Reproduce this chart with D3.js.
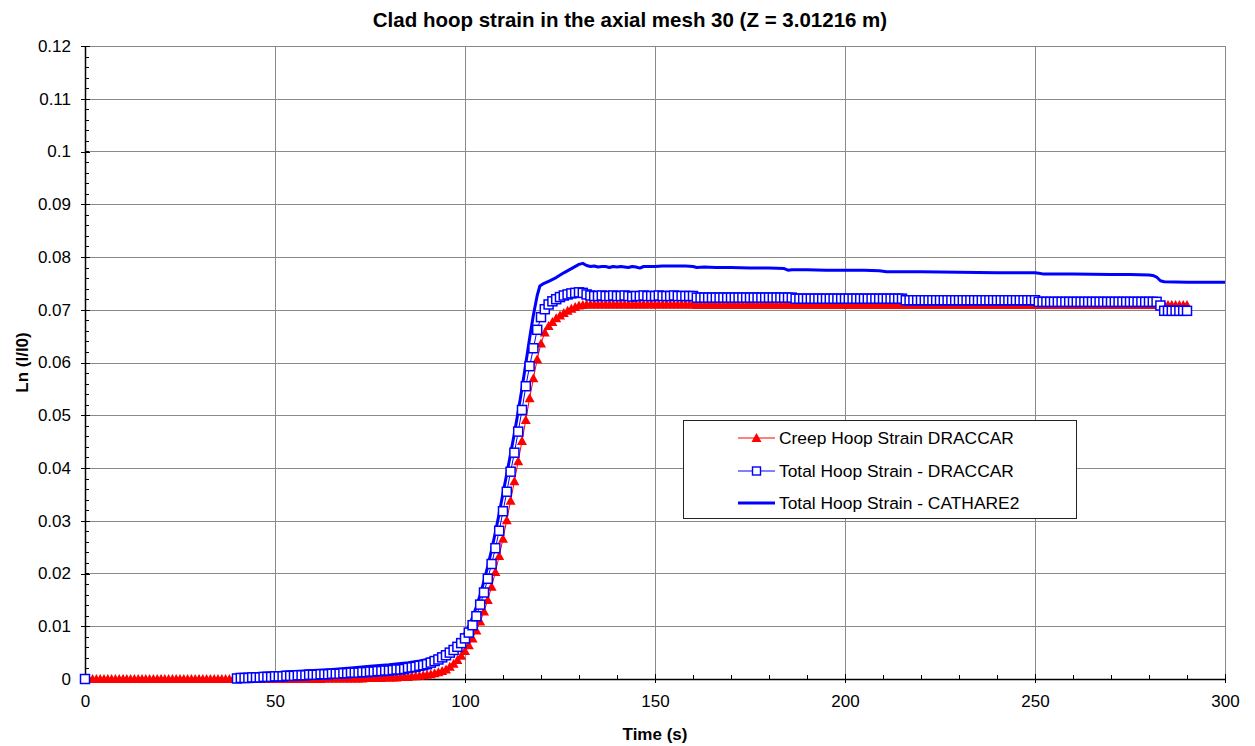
<!DOCTYPE html>
<html>
<head>
<meta charset="utf-8">
<script src="https://cdn.jsdelivr.net/npm/d3@7"></script>
<style>
  html, body { margin: 0; padding: 0; background: #fff; }
  svg { display: block; font-family: "Liberation Sans", Arial, sans-serif; }
</style>
</head>
<body>
<svg id="chart" width="1255" height="746"></svg>
<script>
// ---- Data -----------------------------------------------------------------
// DRACCAR output is sampled every second.
const creepStart = 0;          // s
const creepStep = 1;           // s
// Creep hoop strain, DRACCAR (t = 0 .. 290 s)
const creepStrain = [
  0,0,0,0,0,0,0,0,0,0,
  0,0,0,0,0,0,0,0,0,0,
  0,0,0,0,0,0,0,0,0,0,
  0,0,0,0,0,0,0,0,0,0,
  0,0,0,0,0,0,0,0,0,0,
  0,0,0,0,0,0,0,0,0,0,
  0,0,0,0.0001,0.0001,0.0001,0.0001,0.0001,0.0001,0.0001,
  0.0001,0.0001,0.0001,0.0001,0.0002,0.0002,0.0002,0.0002,0.0002,0.0003,
  0.0003,0.0003,0.0003,0.0004,0.0004,0.0004,0.0005,0.0005,0.0006,0.0007,
  0.0008,0.0009,0.0011,0.0013,0.0015,0.0018,0.0023,0.0029,0.0036,0.0044,
  0.0053,0.0064,0.0077,0.0092,0.0109,0.0128,0.0150,0.0175,0.0203,0.0233,
  0.0266,0.0301,0.0338,0.0375,0.0413,0.0451,0.0491,0.0532,0.0570,0.0606,
  0.0636,0.0657,0.0669,0.0677,0.0684,0.0689,0.0694,0.0698,0.0702,0.0705,
  0.0708,0.0709,0.0710,0.0710,0.0710,0.0710,0.0710,0.0710,0.0710,0.0710,
  0.0710,0.0710,0.0710,0.0710,0.0710,0.0710,0.0710,0.0710,0.0710,0.0710,
  0.0710,0.0710,0.0710,0.0710,0.0710,0.0710,0.0710,0.0710,0.0710,0.0710,
  0.0710,0.0709,0.0709,0.0709,0.0709,0.0709,0.0709,0.0709,0.0709,0.0709,
  0.0709,0.0709,0.0709,0.0709,0.0709,0.0709,0.0709,0.0709,0.0709,0.0709,
  0.0709,0.0709,0.0709,0.0709,0.0709,0.0709,0.0709,0.0709,0.0709,0.0709,
  0.0709,0.0709,0.0709,0.0709,0.0709,0.0709,0.0709,0.0709,0.0709,0.0709,
  0.0709,0.0709,0.0709,0.0709,0.0709,0.0709,0.0709,0.0709,0.0709,0.0709,
  0.0709,0.0709,0.0709,0.0709,0.0709,0.0709,0.0709,0.0709,0.0709,0.0709,
  0.0709,0.0709,0.0709,0.0709,0.0709,0.0709,0.0709,0.0709,0.0709,0.0709,
  0.0709,0.0709,0.0709,0.0709,0.0709,0.0709,0.0709,0.0709,0.0709,0.0709,
  0.0709,0.0709,0.0709,0.0709,0.0709,0.0709,0.0709,0.0709,0.0709,0.0709,
  0.0709,0.0709,0.0709,0.0709,0.0709,0.0709,0.0709,0.0709,0.0709,0.0709,
  0.0709,0.0709,0.0709,0.0709,0.0709,0.0709,0.0709,0.0709,0.0709,0.0709,
  0.0709,0.0709,0.0709,0.0709,0.0709,0.0709,0.0709,0.0709,0.0709,0.0709,
  0.0709,0.0709,0.0709,0.0709,0.0709,0.0709,0.0709,0.0709,0.0709,0.0709,
  0.0709
];

// Total hoop strain, DRACCAR: one value at t = 0 s, then t = 40 .. 290 s
const totalFirstTime = 0;
const totalFirstValue = 0;
const totalStart = 40;         // s
const totalStep = 1;           // s
const totalStrain = [
  0.0001,0.0002,0.0002,0.0002,0.0003,0.0003,0.0003,0.0004,0.0004,0.0004,
  0.0005,0.0005,0.0005,0.0006,0.0006,0.0006,0.0007,0.0007,0.0007,0.0008,
  0.0008,0.0008,0.0009,0.0009,0.0009,0.0010,0.0010,0.0010,0.0011,0.0011,
  0.0012,0.0012,0.0012,0.0013,0.0013,0.0014,0.0014,0.0015,0.0015,0.0016,
  0.0016,0.0017,0.0018,0.0018,0.0019,0.0021,0.0022,0.0023,0.0025,0.0026,
  0.0028,0.0031,0.0034,0.0037,0.0041,0.0045,0.0050,0.0055,0.0061,0.0068,
  0.0077,0.0088,0.0102,0.0119,0.0141,0.0164,0.0190,0.0218,0.0248,0.0281,
  0.0318,0.0355,0.0393,0.0429,0.0469,0.0510,0.0555,0.0593,0.0627,0.0662,
  0.0686,0.0701,0.0710,0.0716,0.0720,0.0724,0.0727,0.0729,0.0731,0.0732,
  0.0733,0.0732,0.0729,0.0727,0.0726,0.0726,0.0727,0.0726,0.0726,0.0727,
  0.0726,0.0726,0.0727,0.0726,0.0725,0.0726,0.0726,0.0727,0.0726,0.0726,
  0.0726,0.0727,0.0726,0.0726,0.0726,0.0727,0.0726,0.0726,0.0726,0.0726,
  0.0726,0.0723,0.0723,0.0723,0.0723,0.0723,0.0723,0.0723,0.0723,0.0723,
  0.0723,0.0723,0.0723,0.0723,0.0723,0.0723,0.0723,0.0723,0.0723,0.0723,
  0.0723,0.0723,0.0723,0.0723,0.0723,0.0723,0.0723,0.0721,0.0721,0.0721,
  0.0721,0.0721,0.0721,0.0721,0.0721,0.0721,0.0721,0.0721,0.0721,0.0721,
  0.0721,0.0721,0.0721,0.0721,0.0721,0.0721,0.0721,0.0721,0.0721,0.0721,
  0.0721,0.0721,0.0721,0.0721,0.0721,0.0721,0.0718,0.0718,0.0718,0.0718,
  0.0718,0.0718,0.0718,0.0718,0.0718,0.0718,0.0718,0.0718,0.0718,0.0718,
  0.0718,0.0718,0.0718,0.0718,0.0718,0.0718,0.0718,0.0718,0.0718,0.0718,
  0.0718,0.0718,0.0718,0.0718,0.0718,0.0718,0.0718,0.0718,0.0718,0.0718,
  0.0718,0.0715,0.0715,0.0715,0.0715,0.0715,0.0715,0.0715,0.0715,0.0715,
  0.0715,0.0715,0.0715,0.0715,0.0715,0.0715,0.0715,0.0715,0.0715,0.0715,
  0.0715,0.0715,0.0715,0.0715,0.0715,0.0715,0.0715,0.0715,0.0715,0.0715,
  0.0715,0.0715,0.0715,0.0708,0.0698,0.0698,0.0698,0.0698,0.0698,0.0698,
  0.0698
];

// Total hoop strain, CATHARE2 (irregular time steps)
const cathareTime = [
  40,45,50,55,60,65,70,75,80,85,88,90,92,94,95,96,97,98,99,
  100,101,102,103,104,105,106,107,108,109,110,111,112,113,114,115,116,117,118,119,
  119.7,120.5,122,124,126,128,130,131,132,133,134,135,136,137,138,139,
  140,141,142,143,144,145,146,147,148,150,152,155,158,160,161,163,166,170,175,
  180,184,185,186,190,195,200,205,209,210,211,215,220,230,240,250,251,252,
  260,270,275,280,281,282,283,284,290,300
];
const cathareStrain = [
  0.0008,0.0010,0.0012,0.0014,0.0016,0.0018,0.0021,0.0024,0.0027,0.0031,0.0034,0.0037,0.0041,0.0046,0.0050,0.0055,0.0060,0.0067,0.0076,
  0.0087,0.0100,0.0117,0.0137,0.0160,0.0186,0.0214,0.0245,0.0278,0.0314,0.0352,0.0389,0.0427,0.0466,0.0507,0.0551,0.0598,0.0646,0.0690,0.0727,
  0.0745,0.0749,0.0754,0.0761,0.0770,0.0778,0.0786,0.0788,0.0784,0.0782,0.0783,0.0781,0.0782,0.0782,0.0780,0.0782,
  0.0781,0.0782,0.0781,0.0780,0.0782,0.0781,0.0779,0.0782,0.0782,0.0782,0.0783,0.0783,0.0783,0.0782,0.0780,0.0781,0.0780,0.0780,0.0779,
  0.0779,0.0778,0.0775,0.0776,0.0776,0.0775,0.0775,0.0775,0.0774,0.0773,0.0772,0.0772,0.0772,0.0771,0.0770,0.0770,0.0769,0.0768,
  0.0768,0.0767,0.0767,0.0766,0.0765,0.0762,0.0755,0.0753,0.0752,0.0752
];

// Axis ticks and labels
const xTicks = [0, 50, 100, 150, 200, 250, 300];
const yTicks = [0, 0.01, 0.02, 0.03, 0.04, 0.05, 0.06, 0.07, 0.08, 0.09, 0.1, 0.11, 0.12];
const xMinorStep = 10;
const yMinorStep = 0.002;

const titleText = "Clad hoop strain in the axial mesh 30 (Z = 3.01216 m)";
const xTitle = "Time (s)";
const yTitle = "Ln (l/l0)";
const seriesNames = ["Creep Hoop Strain DRACCAR", "Total Hoop Strain - DRACCAR", "Total Hoop Strain - CATHARE2"];

// ---- Build point lists ----------------------------------------------------
const creepPts = creepStrain.map((v, i) => ({ t: creepStart + i * creepStep, v }));
const totalPts = [{ t: totalFirstTime, v: totalFirstValue }]
  .concat(totalStrain.map((v, i) => ({ t: totalStart + i * totalStep, v })));
const cathPts = cathareTime.map((t, i) => ({ t, v: cathareStrain[i] }));

// ---- Layout ---------------------------------------------------------------
const plot = { left: 85, right: 1225, top: 46, bottom: 679 };

const svg = d3.select("#chart");
const x = d3.scaleLinear().domain([0, 300]).range([plot.left, plot.right]);
const y = d3.scaleLinear().domain([0, 0.12]).range([plot.bottom, plot.top]);

const RED = "#ff0000", BLUE = "#0000ff", GRID = "#8a8a8a";
const SQ = 9;                               // square marker side
const triPath = "M0,-5L5,4L-5,4Z";          // triangle marker

// Gridlines
const grid = svg.append("g").attr("shape-rendering", "crispEdges");
grid.selectAll("line.h").data(yTicks).enter().append("line")
  .attr("x1", plot.left).attr("x2", plot.right)
  .attr("y1", d => Math.round(y(d)) + 0.5).attr("y2", d => Math.round(y(d)) + 0.5)
  .attr("stroke", GRID).attr("stroke-width", 1);
grid.selectAll("line.v").data(xTicks.slice(1)).enter().append("line")
  .attr("y1", plot.top).attr("y2", plot.bottom)
  .attr("x1", d => Math.round(x(d)) + 0.5).attr("x2", d => Math.round(x(d)) + 0.5)
  .attr("stroke", GRID).attr("stroke-width", 1);

// Axes
const yMinor = d3.range(0, 0.12 + 1e-9, yMinorStep);
const xMinor = d3.range(0, 300 + 1e-9, xMinorStep);

const yAxis = d3.axisLeft(y).tickValues(yTicks).tickFormat(d => String(+d.toFixed(2)))
  .tickSizeInner(4).tickSizeOuter(0).tickPadding(10);
const gy = svg.append("g").attr("transform", `translate(${plot.left},0)`).call(yAxis);
gy.selectAll(".tick line").attr("x2", -4).attr("x1", 5);
gy.select(".domain").remove();
gy.append("g").selectAll("line").data(yMinor).enter().append("line")
  .attr("x1", 0).attr("x2", 4)
  .attr("y1", d => Math.round(y(d)) + 0.5).attr("y2", d => Math.round(y(d)) + 0.5)
  .attr("stroke", "#000");

const xAxis = d3.axisBottom(x).tickValues(xTicks).tickFormat(d3.format("d"))
  .tickSizeInner(4).tickSizeOuter(0).tickPadding(12);
const gx = svg.append("g").attr("transform", `translate(0,${plot.bottom})`).call(xAxis);
gx.selectAll(".tick line").attr("y1", -5).attr("y2", 4);
gx.select(".domain").remove();
gx.append("g").selectAll("line").data(xMinor).enter().append("line")
  .attr("y1", 0).attr("y2", -4)
  .attr("x1", d => Math.round(x(d)) + 0.5).attr("x2", d => Math.round(x(d)) + 0.5)
  .attr("stroke", "#000");

[gx, gy].forEach(g => {
  g.attr("shape-rendering", "crispEdges");
  g.selectAll(".tick text").attr("font-size", 17).attr("fill", "#000")
    .attr("font-family", '"Liberation Sans", Arial, sans-serif');
  g.selectAll(".tick line").attr("stroke", "#000");
});

// Axis lines
svg.append("line").attr("x1", plot.left + 0.5).attr("x2", plot.left + 0.5)
  .attr("y1", plot.top).attr("y2", plot.bottom + 1)
  .attr("stroke", "#000").attr("stroke-width", 1.5);
svg.append("line").attr("x1", plot.left).attr("x2", plot.right + 1)
  .attr("y1", plot.bottom + 0.5).attr("y2", plot.bottom + 0.5)
  .attr("stroke", "#000").attr("stroke-width", 1.5);

// ---- Series ---------------------------------------------------------------
const line = d3.line().x(d => x(d.t)).y(d => y(d.v));

const series = svg.append("g");
series.append("path").datum(creepPts).attr("d", line)
  .attr("fill", "none").attr("stroke", RED).attr("stroke-width", 1);
series.append("path").datum(totalPts).attr("d", line)
  .attr("fill", "none").attr("stroke", BLUE).attr("stroke-width", 1);
series.append("path").datum(cathPts).attr("d", line)
  .attr("fill", "none").attr("stroke", BLUE).attr("stroke-width", 3)
  .attr("stroke-linejoin", "round");

series.append("g").selectAll("path").data(creepPts).enter().append("path")
  .attr("d", triPath)
  .attr("transform", d => `translate(${x(d.t)},${y(d.v)})`)
  .attr("fill", RED);

series.append("g").selectAll("rect").data(totalPts).enter().append("rect")
  .attr("x", d => x(d.t) - SQ / 2).attr("y", d => y(d.v) - SQ / 2)
  .attr("width", SQ).attr("height", SQ)
  .attr("fill", "#fff").attr("stroke", BLUE).attr("stroke-width", 1.5);

// ---- Titles ---------------------------------------------------------------
svg.append("text").attr("x", 630).attr("y", 27).attr("text-anchor", "middle")
  .attr("font-size", 20.5).attr("font-weight", "bold").text(titleText);
svg.append("text").attr("x", x(150)).attr("y", 740).attr("text-anchor", "middle")
  .attr("font-size", 17).attr("font-weight", "bold").text(xTitle);
svg.append("text").attr("transform", `translate(28,${y(0.06)}) rotate(-90)`)
  .attr("text-anchor", "middle")
  .attr("font-size", 17).attr("font-weight", "bold").text(yTitle);

// ---- Legend ---------------------------------------------------------------
const lg = svg.append("g");
lg.append("rect").attr("x", 683.5).attr("y", 420.5).attr("width", 393).attr("height", 98)
  .attr("fill", "#fff").attr("stroke", "#222").attr("stroke-width", 1);
const rowY = [438, 471, 503];
const lx1 = 738, lx2 = 775, lmid = 756.5;
// creep
lg.append("line").attr("x1", lx1).attr("x2", lx2).attr("y1", rowY[0]).attr("y2", rowY[0])
  .attr("stroke", RED).attr("stroke-width", 1);
lg.append("path").attr("d", triPath).attr("transform", `translate(${lmid},${rowY[0]})`).attr("fill", RED);
// total DRACCAR
lg.append("line").attr("x1", lx1).attr("x2", lx2).attr("y1", rowY[1]).attr("y2", rowY[1])
  .attr("stroke", BLUE).attr("stroke-width", 1);
lg.append("rect").attr("x", lmid - 4).attr("y", rowY[1] - 4).attr("width", 8).attr("height", 8)
  .attr("fill", "#fff").attr("stroke", BLUE).attr("stroke-width", 1.4);
// CATHARE2
lg.append("line").attr("x1", lx1).attr("x2", lx2).attr("y1", rowY[2]).attr("y2", rowY[2])
  .attr("stroke", BLUE).attr("stroke-width", 3);
lg.selectAll("text.lab").data(seriesNames).enter().append("text")
  .attr("x", 779).attr("y", (d, i) => rowY[i]).attr("dy", "0.36em")
  .attr("font-size", 17.4).text(d => d);
</script>
</body>
</html>
